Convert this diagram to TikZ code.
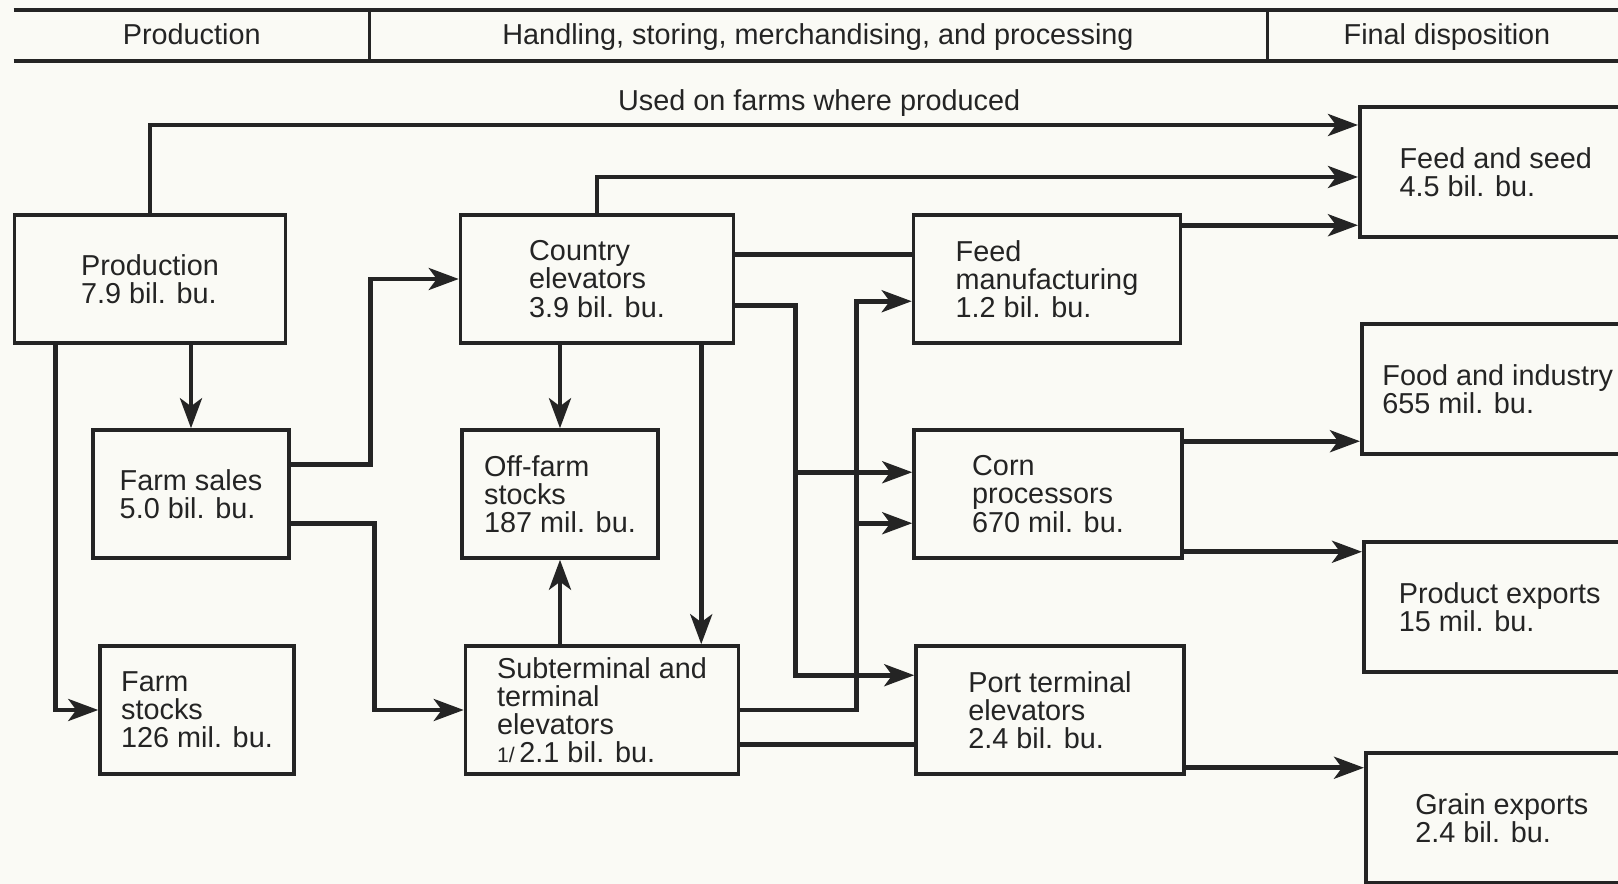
\documentclass[tikz,border=0pt]{standalone}
\usepackage{fontspec}
\setmainfont{Liberation Sans}
\usetikzlibrary{arrows.meta,positioning,calc}
\definecolor{paper}{HTML}{FAFAF5}
\definecolor{ink}{HTML}{242424}
\tikzset{
  every node/.style={font=\fontsize{8.2}{8}\selectfont, text=ink},
  blk/.style ={draw=ink, line width=1pt, align=left, inner sep=0pt,
               minimum height=12.8mm},
  dispbox/.style={blk, anchor=west, minimum width=27.2mm, minimum height=13mm},
  hdr/.style ={minimum height=4.97mm, inner sep=0pt, text height=0.72em, text depth=0.2em},
  rule/.style={line width=1.2pt, draw=ink},
  sep/.style ={line width=0.8pt, draw=ink},
  ln/.style  ={line width=1.3pt, draw=ink},
  ar/.style  ={ln, -{Stealth[length=3mm, width=2.2mm, inset=0.8mm]}},
}
\newcommand{\fnmark}{{\fontsize{6}{6}\selectfont 1/}\,}

\begin{document}
\begin{tikzpicture}

\path[use as bounding box, fill=paper] (0,0) rectangle (16.18,-8.84);

% ---------------- header ------------------------------------------------------
\node[hdr, minimum width=35.46mm] (hp) at (1.917,-0.352) {Production};
\node[hdr, minimum width=89.8mm]  (hh) at (8.18,-0.352)
  {Handling, storing, merchandising, and processing};
\node[hdr, minimum width=36mm]    (hf) at (14.47,-0.352) {Final disposition};
\draw[rule] (hp.north west) -- (hf.north east);
\draw[rule] (hp.south west) -- (hf.south east);
\draw[sep] (hp.north east) -- (hp.south east);
\draw[sep] (hh.north east) -- (hh.south east);

% ---------------- production --------------------------------------------------
\node[blk, minimum width=27.1mm] (prod)   at (1.50,-2.79) {Production\\7.9 bil. bu.};
\node[blk, minimum width=19.6mm] (sales)  at (1.91,-4.94) {Farm sales\\5.0 bil. bu.};
\node[blk, minimum width=19.4mm] (fstock) at (1.97,-7.10) {Farm\\stocks\\126 mil. bu.};

% ---------------- handling ----------------------------------------------------
\node[blk, minimum width=27.3mm] (country) at (5.97,-2.79)
  {Country\\elevators\\3.9 bil. bu.};
\node[blk, minimum width=19.6mm] (offfarm) at (5.60,-4.94)
  {Off-farm\\stocks\\187 mil. bu.};
\node[blk, minimum width=27.3mm] (subterm) at (6.02,-7.10)
  {Subterminal and\\terminal\\elevators\\\fnmark 2.1 bil. bu.};

% ---------------- processing --------------------------------------------------
\node[blk, minimum width=26.7mm] (feedmfg) at (10.47,-2.79)
  {Feed\\manufacturing\\1.2 bil. bu.};
\node[blk, minimum width=26.8mm] (corn) at (10.48,-4.94)
  {Corn\\processors\\670 mil. bu.};
\node[blk, minimum width=26.8mm] (port) at (10.50,-7.10)
  {Port terminal\\elevators\\2.4 bil. bu.};

% ---------------- final disposition -------------------------------------------
\node[dispbox] (feedseed) at (13.58,-1.72) {Feed and seed\\4.5 bil. bu.};
\node[dispbox] (food)     at (13.60,-3.89) {Food and industry\\655 mil. bu.};
\node[dispbox] (prodexp)  at (13.62,-6.07) {Product exports\\15 mil. bu.};
\node[dispbox] (grainexp) at (13.64,-8.18) {Grain exports\\2.4 bil. bu.};

% ---------------- arrows ------------------------------------------------------
\draw[ar] (prod.north) |- ($(feedseed.west)+(0,0.47)$)
  node[pos=0.777, above=-0.5mm] (used) {Used on farms where produced};
\draw[ar] (sales.north |- prod.south) -- (sales.north);
\draw[ar] ($(prod.south west)+(0.43,0)$) |- (fstock.west);

\draw[ar] ($(sales.north east)+(0,-0.36)$) -| ($(country.west)+(-0.88,0)$) -- (country.west);
\draw[ar] ($(sales.south east)+(0,0.36)$) -| ($(subterm.west)+(-0.89,0)$) -- (subterm.west);

\draw[ar] (country.north) |- ($(feedseed.west)+(0,-0.05)$);
\draw[ln] ($(country.north east)+(0,-0.41)$) -- ($(feedmfg.north west)+(0,-0.41)$);
\draw[ar] ($(country.south east)+(0,0.39)$) -| ($(port.north west)+(-1.19,-0.31)$)
  -- ($(port.north west)+(0,-0.31)$);
\draw[ar] ($(corn.north west)+(-1.19,-0.44)$) -- ($(corn.north west)+(0,-0.44)$);
\draw[ar] (offfarm.north |- country.south) -- (offfarm.north);
\coordinate (drop) at ($(subterm.north east)+(-0.39,0)$);
\draw[ar] (drop |- country.south) -- (drop);

\draw[ar] (offfarm.south |- subterm.north) -- (offfarm.south);
\draw[ar] (subterm.east) -| ($(feedmfg.north west)+(-0.55,-0.88)$)
  -- ($(feedmfg.north west)+(0,-0.88)$);
\draw[ar] ($(corn.north west)+(-0.56,-0.95)$) -- ($(corn.north west)+(0,-0.95)$);
\draw[ln] ($(subterm.south east)+(0,0.31)$) -- ($(port.south west)+(0,0.31)$);

\draw[ar] ($(feedmfg.north east)+(0,-0.12)$) coordinate (fm) -- (fm -| feedseed.west);
\draw[ar] ($(corn.north east)+(0,-0.13)$) coordinate (cp1) -- (cp1 -| food.west);
\draw[ar] ($(corn.south east)+(0,0.08)$) coordinate (cp2) -- (cp2 -| prodexp.west);
\draw[ar] ($(port.south east)+(0,0.08)$) coordinate (pt) -- (pt -| grainexp.west);

\end{tikzpicture}
\end{document}
